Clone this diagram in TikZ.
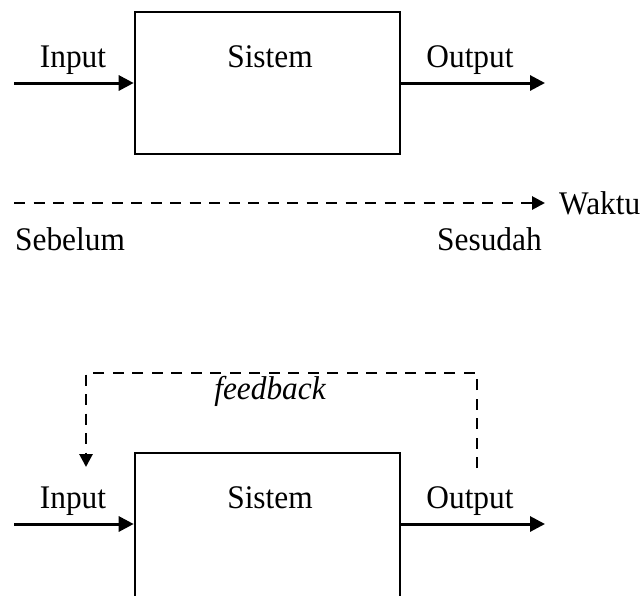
\documentclass[tikz,border=0pt]{standalone}
\usepackage{fontspec}
\setmainfont[FakeStretch=0.95]{Liberation Serif}
\usetikzlibrary{arrows.meta}
\begin{document}
\begin{tikzpicture}[x=1pt,y=-1pt,
  sysbox/.style={draw,line width=2.6pt,minimum width=265pt,minimum height=142pt,inner sep=0pt},
  lbl/.style={anchor=base,inner sep=0pt,font=\fontsize{33}{40}\selectfont},
  lblw/.style={anchor=base west,inner sep=0pt,font=\fontsize{33}{40}\selectfont},
  flow/.style={line width=3pt,-{Triangle[length=15pt,width=15pt]}},
  dline/.style={line width=2.8pt,dash pattern=on 11pt off 8.5pt,-{Triangle[length=13pt,width=13pt]}}]
\useasboundingbox (0,0) rectangle (644,595);
\clip (0,0) rectangle (644,595);
\fill[white] (0,0) rectangle (644,595);
% top system
\node[sysbox] (box1) at (267.5,83) {};
\node[lbl] (sis1) at (270,67) {Sistem};
\node[lbl] (in1) at (73,67) {Input};
\node[lbl] (out1) at (470,67) {Output};
\coordinate (in1s) at (14,83);
\coordinate (out1e) at (545,83);
\draw[flow] (in1s) -- (box1.west |- in1s);
\draw[flow] (box1.east |- out1e) -- (out1e);
% time line
\coordinate (t0) at (14,203);
\coordinate (t1) at (545,203);
\draw[dline] (t0) -- (t1);
\node[lblw] (waktu) at (559,214) {Waktu};
\node[lblw] (sebelum) at (15,250) {Sebelum};
\node[lblw] (sesudah) at (437,250) {Sesudah};
% bottom system
\node[sysbox,minimum height=150pt] (box2) at (267.5,528) {};
\node[lbl] (sis2) at (270,508) {Sistem};
\node[lbl] (in2) at (73,508) {Input};
\node[lbl] (out2) at (470,508) {Output};
\coordinate (in2s) at (14,524);
\coordinate (out2e) at (545,524);
\draw[flow] (in2s) -- (box2.west |- in2s);
\draw[flow] (box2.east |- out2e) -- (out2e);
% feedback
\coordinate (fbs) at (477,468);
\coordinate (fbe) at (86,467);
\draw[dline] (fbs) -- (477,373) -- (86,373) -- (fbe);
\node[lbl,font=\fontsize{33}{40}\selectfont\itshape] (fb) at (270,399) {feedback};
\end{tikzpicture}
\end{document}
